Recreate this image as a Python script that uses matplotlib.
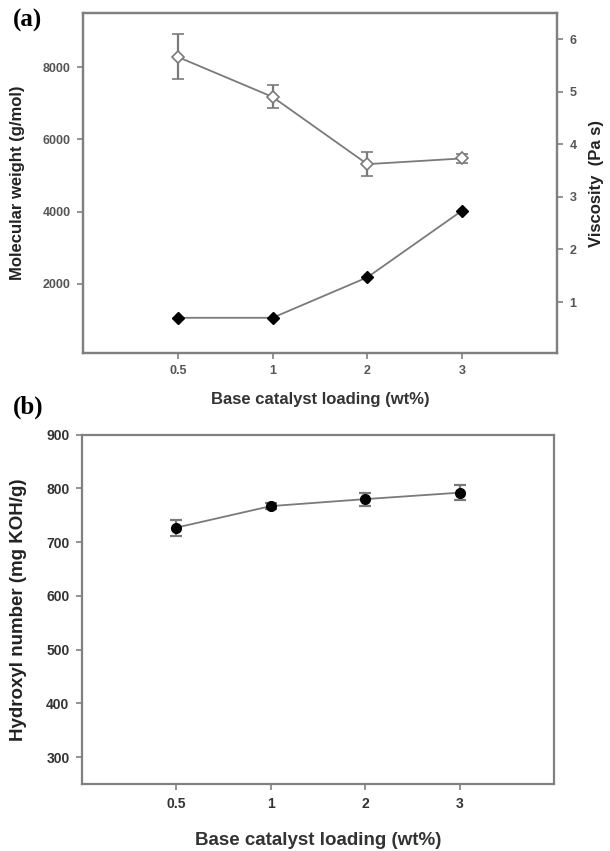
import numpy as np
import matplotlib.pyplot as plt

# catalyst loading levels (wt%), plotted as evenly spaced categories
loading = ['0.5', '1', '2', '3']

# panel (a)
mol_weight = [8285, 7178, 5317, 5475]
mol_weight_err = [625, 318, 332, 130]
viscosity = [0.70, 0.70, 1.47, 2.74]

# panel (b)
hydroxyl = [727, 767, 780, 792]
hydroxyl_err = [15, 6, 12, 14]

x = np.arange(1, len(loading) + 1)

plt.rcParams['font.family'] = 'Liberation Sans'
plt.rcParams['font.weight'] = 'bold'

line_c = '#7a7a7a'
spine_c = '#808080'

fig = plt.figure(figsize=(6.1, 8.51), dpi=100)
ax1 = fig.add_axes([0.136, 0.5852, 0.777, 0.3995])
ax3 = fig.add_axes([0.1344, 0.0787, 0.774, 0.4106])


def style_axes(ax, tick_c, size):
    for s in ax.spines.values():
        s.set_color(spine_c)
        s.set_linewidth(1.6)
    ax.tick_params(direction='out', length=4, width=1.2, color=spine_c,
                   labelcolor=tick_c, labelsize=size, pad=5)
    ax.set_xlim(0, 5)
    ax.set_xticks(x)
    ax.set_xticklabels(loading)
    for lab in ax.get_xticklabels() + ax.get_yticklabels():
        lab.set_fontweight('bold')


# (a) molecular weight (open) and viscosity (filled)
ax1.errorbar(x, mol_weight, yerr=mol_weight_err, color=line_c, lw=1.3,
             marker='D', ms=6.5, mfc='white', mec=line_c, mew=1.2,
             ecolor=line_c, elinewidth=1.6, capsize=4.5, capthick=1.6, zorder=3)
ax1.set_ylim(90, 9500)
ax1.set_yticks([2000, 4000, 6000, 8000])
style_axes(ax1, '#555555', 9)
ax1.set_ylabel('Molecular weight (g/mol)', fontsize=12, fontweight='bold',
               color='#222222')
ax1.yaxis.set_label_coords(-0.122, 0.5)
ax1.set_xlabel('Base catalyst loading (wt%)', fontsize=12, fontweight='bold',
               color='#333333')
ax1.xaxis.set_label_coords(0.5, -0.114)

ax2 = ax1.twinx()
ax2.plot(x, viscosity, color=line_c, lw=1.3, marker='D', ms=6.5,
         mfc='black', mec='black', zorder=3)
ax2.set_ylim(0.03, 6.5)
ax2.set_yticks([1, 2, 3, 4, 5, 6])
style_axes(ax2, '#555555', 9)
ax2.set_ylabel('Viscosity  (Pa s)', fontsize=12, fontweight='bold',
               color='#222222')
ax2.yaxis.set_label_coords(1.068, 0.5)

# (b) hydroxyl number
ax3.errorbar(x, hydroxyl, yerr=hydroxyl_err, color=line_c, lw=1.3,
             marker='o', ms=7, mfc='black', mec='black',
             ecolor=line_c, elinewidth=1.6, capsize=4.5, capthick=1.6, zorder=3)
ax3.set_ylim(250, 900)
ax3.set_yticks([300, 400, 500, 600, 700, 800, 900])
style_axes(ax3, '#333333', 10)
ax3.set_ylabel('Hydroxyl number (mg KOH/g)', fontsize=13.5, fontweight='bold',
               color='#222222')
ax3.yaxis.set_label_coords(-0.1165, 0.5)
ax3.set_xlabel('Base catalyst loading (wt%)', fontsize=13.5, fontweight='bold',
               color='#333333')
ax3.xaxis.set_label_coords(0.5, -0.137)

fig.text(0.021, 0.976, '(a)', family='Liberation Serif', fontsize=18,
         fontweight='bold', va='center')
fig.text(0.021, 0.521, '(b)', family='Liberation Serif', fontsize=18,
         fontweight='bold', va='center')

fig.savefig('out.png', dpi=100)
